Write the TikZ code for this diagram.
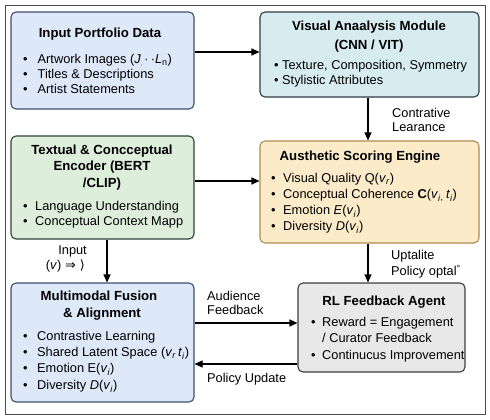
\documentclass[tikz,border=0pt]{standalone}
\usepackage{fontspec}
\setmainfont{Liberation Sans}
\newfontfamily\dejavu{DejaVu Sans}
\usetikzlibrary{arrows.meta}
\definecolor{bluefill}{HTML}{DDE8F8}
\definecolor{blueline}{HTML}{3D4E6E}
\definecolor{cyanfill}{HTML}{D6ECF1}
\definecolor{cyanline}{HTML}{2E3C42}
\definecolor{greenfill}{HTML}{DDEEDB}
\definecolor{greenline}{HTML}{2F4236}
\definecolor{yellowfill}{HTML}{FCEBC8}
\definecolor{yellowline}{HTML}{B38A52}
\definecolor{grayfill}{HTML}{E8E8E8}
\definecolor{grayline}{HTML}{3E3E3E}
\newcommand\bl[2]{\makebox[#1][l]{\textbullet}#2}
\newcommand\vv[1]{\textit{v}\textsubscript{\textit{#1}}}
\tikzset{
  box/.style={draw, rounded corners=5pt, line width=1.1pt, inner sep=0pt},
  ttl/.style={font=\fontsize{13.2}{16}\selectfont\bfseries, inner sep=0pt, anchor=mid, align=center},
  itm/.style={font=\fontsize{12.8}{15}\selectfont, inner sep=0pt, anchor=mid west},
  lbl/.style={font=\fontsize{12.8}{15}\selectfont, inner sep=0pt, anchor=mid west},
  arr/.style={line width=1.1pt, -{Triangle[length=8pt,width=7pt]}},
}
\begin{document}
\begin{tikzpicture}[x=1pt,y=-1pt]
\useasboundingbox (0,0) rectangle (490,420);
\draw[gray!60!black, line width=0.8pt] (5,5) rectangle (485,414);

% boxes
\node[box, fill=bluefill, draw=blueline, minimum width=183pt, minimum height=97pt] (inp) at (102.5,60.5) {};
\node[box, fill=cyanfill, draw=cyanline, minimum width=219pt, minimum height=85pt] (vis) at (369.5,54.5) {};
\node[box, fill=greenfill, draw=greenline, minimum width=183pt, minimum height=103pt] (txt) at (102.5,187.5) {};
\node[box, fill=yellowfill, draw=yellowline, minimum width=219pt, minimum height=102pt] (aes) at (369.5,192) {};
\node[box, fill=bluefill, draw=blueline, minimum width=183pt, minimum height=119pt] (mm) at (102.5,342.5) {};
\node[box, fill=grayfill, draw=grayline, minimum width=167pt, minimum height=89pt] (rl) at (381.5,327.5) {};

% Input Portfolio Data
\node[ttl] (inpT) at (100,35) {Input Portfolio Data};
\node[itm] (inp1) at (23,61) {\bl{14.5pt}{Artwork Images (\textit{J}\raisebox{-2pt}{\tiny\textit{,}}\,·\,·\textit{L}\textsubscript{n})}};
\node[itm] (inp2) at (23,76) {\bl{14.5pt}{Titles \& Descriptions}};
\node[itm] (inp3) at (23,91) {\bl{14.5pt}{Artist Statements}};

% Visual Analysis
\node[ttl] (visT1) at (369,28) {Visual Anaalysis Module};
\node[ttl] (visT2) at (369,47) {(CNN / VIT)};
\node[itm] (vis1) at (274,67) {\bl{8pt}{Texture, Composition, Symmetry}};
\node[itm] (vis2) at (274,82) {\bl{8pt}{Stylistic Attributes}};

% Textual encoder
\node[ttl] (txtT1) at (102,152) {Textual \& Concceptual};
\node[ttl] (txtT2) at (102,168) {Encoder (BERT};
\node[ttl] (txtT3) at (102,185) {/CLIP)};
\node[itm] (txt1) at (23,208) {\bl{12pt}{Language Understanding}};
\node[itm] (txt2) at (23,223) {\bl{12pt}{Conceptual Context Mapp}};

% Aesthetic scoring
\node[ttl] (aesT) at (360,158) {Austhetic Scoring Engine};
\node[itm] (aes1) at (271,180) {\bl{12pt}{Visual Quality Q(\vv{r})}};
\node[itm] (aes2) at (271,196) {\bl{12pt}{Conceptual Coherence \textbf{C}(\vv{i}\textsubscript{\textit{,}}\,\textit{t}\textsubscript{\textit{i}})}};
\node[itm] (aes3) at (271,212) {\bl{12pt}{Emotion \textit{E}(\vv{i})}};
\node[itm] (aes4) at (271,228) {\bl{12pt}{Diversity \textit{D}(\vv{i})}};

% Multimodal fusion
\node[ttl] (mmT1) at (99,298) {Multimodal Fusion};
\node[ttl] (mmT2) at (102,315) {\& Alignment};
\node[itm] (mm1) at (23,338) {\bl{14pt}{Contrastive Learning}};
\node[itm] (mm2) at (23,354) {\bl{14pt}{Shared Latent Space (\vv{r}\,\textit{t}\textsubscript{\textit{i}})}};
\node[itm] (mm3) at (23,370) {\bl{14pt}{Emotion E(\vv{i})}};
\node[itm] (mm4) at (23,387) {\bl{14pt}{Diversity \textit{D}(\vv{i})}};

% RL agent
\node[ttl] (rlT) at (384,303) {RL Feedback Agent};
\node[itm] (rl1) at (311,324) {\bl{11pt}{Reward = Engagement}};
\node[itm] (rl1b) at (322,340) {/ Curator Feedback};
\node[itm] (rl2) at (311,357) {\bl{11pt}{Continucus Improvement}};

% connectors
\draw[arr] (inp.east|-0,52) -- (vis.west|-0,52);
\draw[arr] (vis.south-|368,0) -- (aes.north-|368,0);
\draw[arr] (txt.east|-0,181) -- (aes.west|-0,181);
\draw[arr] (txt.south-|107,0) -- (mm.north-|107,0);
\draw[arr] (aes.south-|368,0) -- (rl.north-|368,0);
\draw[arr] (mm.east|-0,323) -- (rl.west|-0,323);
\draw[arr] (rl.west|-0,364) -- (mm.east|-0,364);

% labels
\node[lbl] (l1a) at (392,115) {Contrative};
\node[lbl] (l1b) at (392,129) {Learance};
\node[lbl] (l2a) at (391,257) {Uptalite};
\node[lbl] (l2b) at (391,273) {Policy optal\textsuperscript{\textdegree}};
\node[lbl, anchor=mid east] (l3a) at (87,252) {Input};
\node[lbl, anchor=mid east] (l3b) at (85,267) {(\textit{v}) {\dejavu ⇒ ⟩}};
\node[lbl] (l4a) at (207,298) {Audience};
\node[lbl] (l4b) at (207,312) {Feedback};
\node[lbl] (l5) at (207,380) {Policy Update};
\end{tikzpicture}
\end{document}
